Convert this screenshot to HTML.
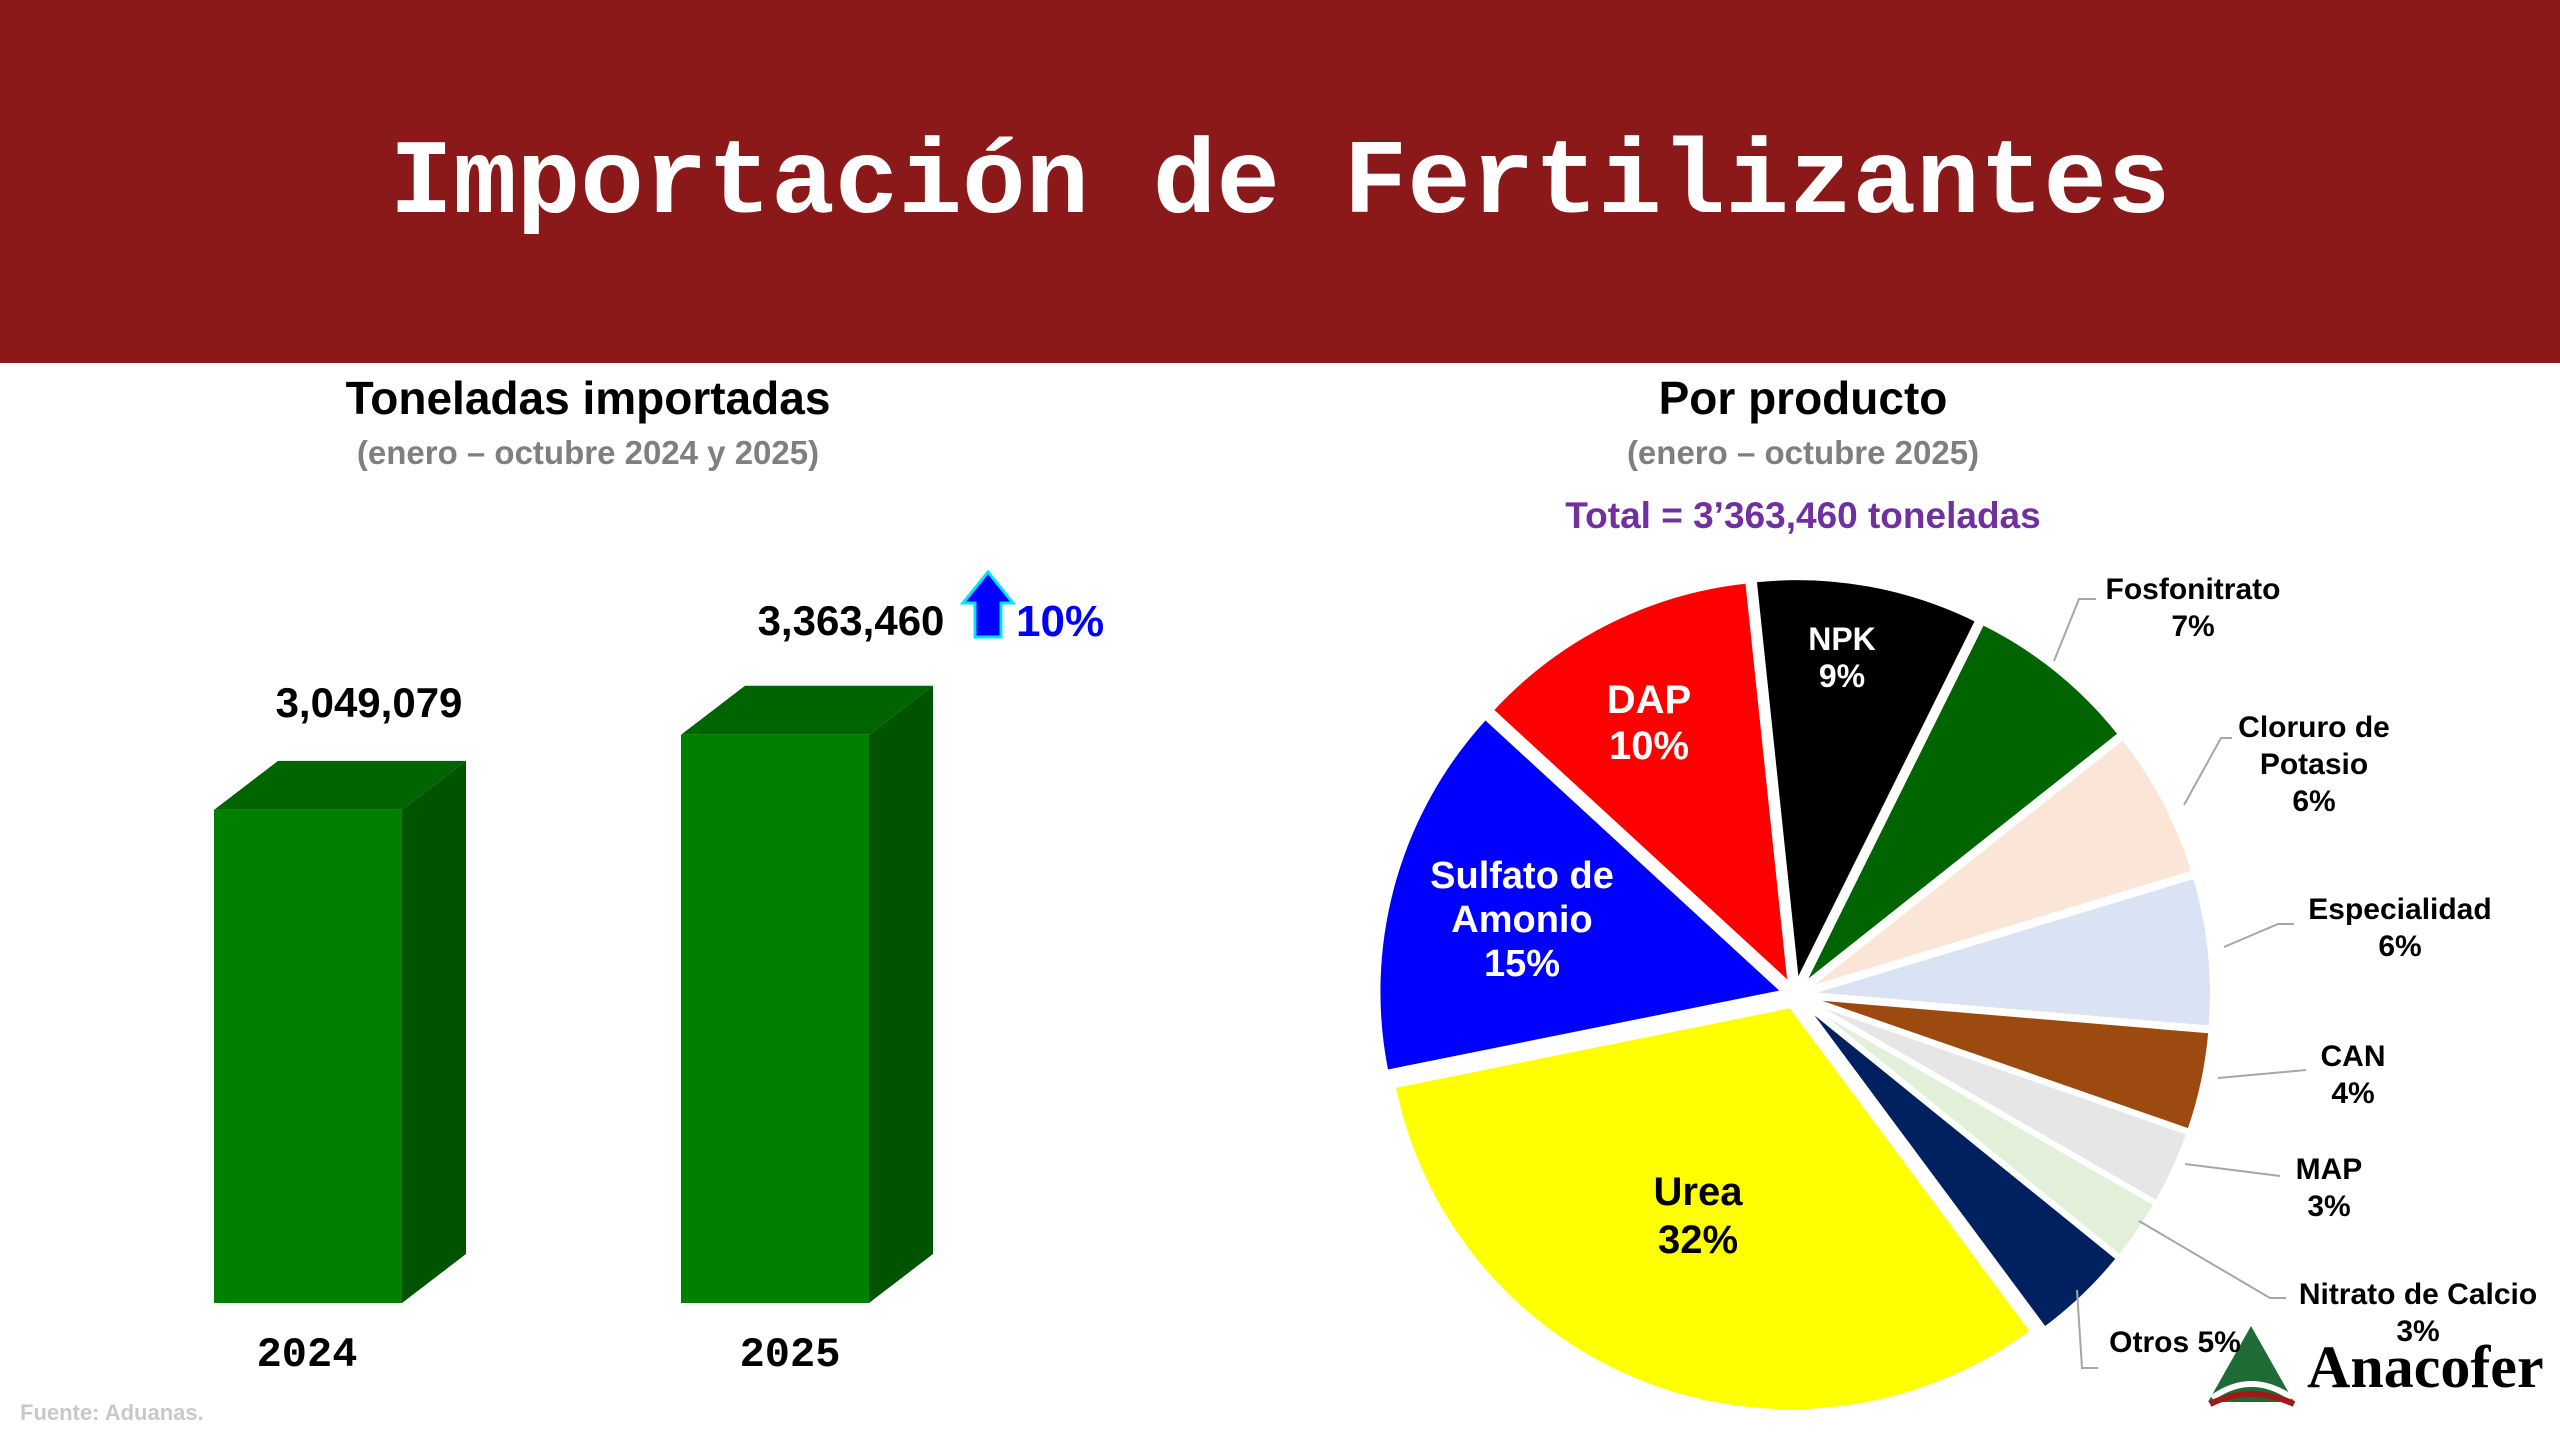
<!DOCTYPE html>
<html><head><meta charset="utf-8"><style>
body{margin:0;width:2560px;height:1440px;background:#fff;overflow:hidden;font-family:"Liberation Sans",sans-serif}
#hdr{position:absolute;left:0;top:0;width:2560px;height:363px;background:#8B1919}
svg{position:absolute;left:0;top:0}
</style></head><body>
<div id="hdr"></div>
<svg id="s" width="2560" height="1440">
<text x="1280" y="212" text-anchor="middle" font-family="Liberation Mono,monospace" font-weight="bold" font-size="106" fill="#fff">Importación de Fertilizantes</text>
<text x="588" y="414" text-anchor="middle" font-weight="bold" font-size="46" fill="#000">Toneladas importadas</text>
<text x="588" y="464" text-anchor="middle" font-weight="bold" font-size="33" fill="#7f7f7f">(enero – octubre 2024 y 2025)</text>
<text x="1803" y="414" text-anchor="middle" font-weight="bold" font-size="46" fill="#000">Por producto</text>
<text x="1803" y="464" text-anchor="middle" font-weight="bold" font-size="33" fill="#7f7f7f">(enero – octubre 2025)</text>
<text x="1803" y="528" text-anchor="middle" font-weight="bold" font-size="37" fill="#7030A0">Total = 3’363,460 toneladas</text>
<polygon points="975,637 975,603 963,603 988,572 1013,603 1001,603 1001,637" fill="#0000ff" stroke="#00e5ff" stroke-width="3"/>
<text x="1016" y="636" font-weight="bold" font-size="44" fill="#0000ff">10%</text>
<text x="20" y="1420" font-weight="bold" font-size="22" fill="#c8c8c8">Fuente: Aduanas.</text>
<polygon points="2208,1402 2251,1326 2294,1402" fill="#1f6b35"/>
<path d="M2212,1398 Q2251,1370 2292,1398" stroke="#fff" stroke-width="6" fill="none"/>
<path d="M2210,1404 Q2251,1384 2294,1404" stroke="#a01818" stroke-width="6" fill="none"/>
<text x="2307" y="1387" font-family="Liberation Serif,serif" font-weight="bold" font-size="60" fill="#000">Anacofer</text>
<g id="bars"></g><g id="pie"></g>
</svg>
<script>
const years=["2024","2025"];
const tons=[3049079,3363460];
const tonLabels=["3,049,079","3,363,460"];
const products=["NPK","Fosfonitrato","Cloruro de Potasio","Especialidad","CAN","MAP","Nitrato de Calcio","Otros","Urea","Sulfato de Amonio","DAP"];
const shares=[9,7,6,6,4,3,2.5,4,32,15,11.5];
const NS="http://www.w3.org/2000/svg";
function mk(t,a,p){const e=document.createElementNS(NS,t);for(const k in a)e.setAttribute(k,a[k]);p.appendChild(e);return e;}
const base=1303,yMin=986000,pxPer=0.000239;
function yS(v){return base-(v-yMin)*pxPer;}
const xL=[214,681],bw=188,dx=64,dy=49;
const yearX=[307,790];
const bg=document.getElementById('bars');
tons.forEach((v,i)=>{
 const x=xL[i],y=yS(v);
 const f=mk('rect',{x:x,y:y,width:bw,height:base-y,fill:'#008000'},bg);
 
 
 const t=mk('polygon',{points:`${x},${y} ${x+dx},${y-dy} ${x+bw+dx},${y-dy} ${x+bw},${y}`,fill:'#006400'},bg);
 
 
 const s=mk('polygon',{points:`${x+bw},${y} ${x+bw+dx},${y-dy} ${x+bw+dx},${base-dy} ${x+bw},${base}`,fill:'#005400'},bg);
 
 
 const l=mk('text',{x:i==0?369:851,y:y-(i==0?93:100),'text-anchor':'middle','font-weight':'bold','font-size':42,fill:'#000'},bg);
 l.textContent=tonLabels[i];
 
 
 const yl=mk('text',{x:yearX[i],y:1366,'text-anchor':'middle','font-family':'Liberation Mono,monospace','font-weight':'bold','font-size':42,fill:'#000'},bg);
 yl.textContent=years[i];
 
 
});
const colors=['#000000','#006400','#FBE5D6','#DAE3F3','#9C4A10','#E6E6E6','#E2F0D9','#002060','#FFFF00','#0000FF','#FF0000'];
const cx=1795,cy=995,R=405,ex=12,start=-6;
const total=shares.reduce((a,b)=>a+b,0);
const pg=document.getElementById('pie');
let acc=start;
shares.forEach((v,i)=>{
 const a0=acc,a1=acc+v/total*360;acc=a1;
 const mid=(a0+a1)/2*Math.PI/180;
 const ox=cx+ex*Math.sin(mid),oy=cy-ex*Math.cos(mid);
 const p=(a)=>{a=a*Math.PI/180;return [ox+R*Math.sin(a),oy-R*Math.cos(a)];};
 const [x0,y0]=p(a0),[x1,y1]=p(a1);
 const path=mk('path',{d:`M${ox},${oy} L${x0},${y0} A${R},${R} 0 ${a1-a0>180?1:0} 1 ${x1},${y1} Z`,fill:colors[i],stroke:'#fff','stroke-width':4},pg);
 
 
});
const leaders=[[2054,661,2079,599,2096,599],[2184,805,2221,738,2232,738],[2224,947,2278,924,2294,924],[2218,1078,2306,1070],[2185,1164,2280,1176],[2139,1221,2270,1298,2286,1298],[2077,1290,2082,1368,2098,1368]];
leaders.forEach((l,i)=>{const pts=[];for(let k=0;k<l.length;k+=2)pts.push(l[k]+','+l[k+1]);
 const e=mk('polyline',{points:pts.join(' '),fill:'none',stroke:'#a6a6a6','stroke-width':2},pg);
 
 });
const labs=[["NPK|9%",1842,650,32,'#fff',37],["DAP|10%",1649,713,40,'#fff',46],["Sulfato de|Amonio|15%",1522,888,38,'#fff',44],["Urea|32%",1698,1205,40,'#000',48],
["Fosfonitrato|7%",2193,599,30,'#000',37],["Cloruro de|Potasio|6%",2314,737,30,'#000',37],["Especialidad|6%",2400,919,30,'#000',37],["CAN|4%",2353,1066,30,'#000',37],["MAP|3%",2329,1179,30,'#000',37],["Nitrato de Calcio|3%",2418,1304,30,'#000',37],["Otros 5%",2175,1352,30,'#000',37]];
labs.forEach(l=>{l[0].split('|').forEach((ln,j)=>{
 const t=mk('text',{x:l[1],y:l[2]+j*l[5],'text-anchor':'middle','font-weight':'bold','font-size':l[3],fill:l[4]},pg);
 t.textContent=ln;
 
 });});
</script>
</body></html>
